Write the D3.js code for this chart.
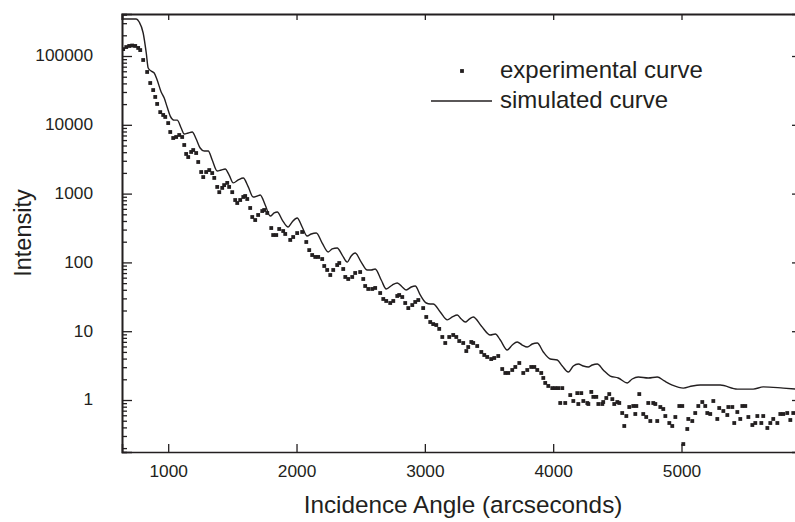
<!DOCTYPE html>
<html><head><meta charset="utf-8">
<script src="https://cdn.jsdelivr.net/npm/d3@7"></script>
<style>
html,body{margin:0;padding:0;background:#fff;}
svg{display:block;font-family:"Liberation Sans",Arial,sans-serif;}
</style></head>
<body>
<svg id="chart" width="795" height="522"></svg>
<script>
// ---- data ----
const expAngle = [649,673,696,719,743,766,782,805,836,860,883,899,914,938,961,977,1000,1016,1039,1062,1086,1109,1125,1140,1156,1179,1195,1218,1234,1257,1273,1296,1320,1343,1359,1382,1398,1421,1436,1460,1475,1499,1522,1538,1561,1585,1600,1616,1639,1655,1678,1701,1733,1748,1772,1803,1818,1842,1865,1896,1912,1951,1974,2005,2044,2076,2099,2122,2146,2169,2200,2216,2239,2263,2286,2317,2333,2364,2380,2403,2434,2457,2496,2520,2535,2559,2590,2613,2652,2676,2699,2730,2754,2785,2800,2824,2847,2871,2902,2925,2949,2987,3011,3042,3065,3089,3112,3136,3159,3190,3221,3245,3268,3299,3323,3338,3362,3377,3408,3440,3463,3486,3517,3541,3572,3603,3627,3650,3681,3705,3736,3767,3798,3829,3853,3876,3907,3923,3938,3962,3993,4016,4040,4055,4071,4094,4133,4157,4188,4196,4219,4235,4266,4274,4297,4313,4336,4352,4383,4390,4414,4437,4461,4476,4500,4515,4538,4554,4570,4593,4624,4640,4648,4671,4702,4725,4741,4757,4780,4796,4811,4835,4858,4874,4905,4928,4952,4983,5006,5014,5045,5053,5084,5107,5131,5162,5185,5201,5224,5248,5279,5294,5326,5357,5365,5396,5411,5435,5458,5474,5497,5521,5552,5575,5591,5622,5637,5669,5692,5715,5747,5770,5793,5824,5848,5871];
const expIntensity = [126000,135000,140000,142000,140000,131000,122000,87500,58600,40500,32000,25400,20100,15300,13900,13000,10600,7860,6430,6650,7110,6650,5090,3770,3400,4030,4300,3890,2880,2060,1740,2060,2200,1990,1690,1250,1050,1210,1330,1430,1250,1050,807,730,807,893,923,835,618,457,413,489,558,578,523,316,250,250,306,286,259,212,234,267,277,198,151,128,120,120,112,88.7,77.6,65.6,77.6,91.6,98.0,80.2,61.4,57.4,61.4,70.2,72.5,57.4,45.4,41.1,41.1,42.5,35.9,29.4,27.5,25.7,27.5,32.5,33.6,31.4,25.7,21.7,24.0,26.6,28.4,21.7,16.1,13.6,12.7,12.3,10.8,8.24,6.74,8.24,8.81,8.24,7.20,6.74,5.15,5.89,6.97,6.74,6.09,4.99,4.51,4.22,3.94,4.08,4.36,2.82,2.47,2.47,2.73,3.02,3.45,2.47,2.73,3.02,3.02,2.73,2.47,2.09,1.77,1.60,1.49,1.49,1.49,0.905,1.49,0.905,1.18,0.967,1.26,0.875,1.26,0.967,0.905,0.875,1.31,1.11,1.11,0.875,0.875,0.935,1.07,1.22,1.03,0.875,0.935,0.905,0.647,0.419,0.585,0.791,0.818,0.626,0.818,1.22,0.626,0.566,0.905,0.495,0.905,0.875,0.495,0.791,0.740,0.585,0.463,0.419,0.566,0.818,0.818,0.229,0.379,0.530,0.495,0.647,0.818,0.935,0.818,0.647,0.626,0.967,0.530,0.765,0.692,0.605,0.791,0.791,0.463,0.669,0.530,0.818,0.818,0.566,0.433,0.463,0.585,0.463,0.585,0.392,0.463,0.530,0.463,0.626,0.626,0.647,0.512,0.647];

const simAngle = [649,751,774,805,829,844,867,891,914,945,969,992,1016,1047,1070,1101,1125,1156,1187,1218,1249,1281,1312,1343,1382,1413,1444,1475,1507,1546,1585,1624,1662,1694,1717,1756,1795,1826,1850,1889,1935,1966,2005,2044,2083,2115,2154,2200,2247,2278,2317,2356,2395,2426,2457,2504,2551,2582,2613,2660,2699,2746,2785,2824,2855,2894,2925,2964,3011,3042,3065,3120,3175,3214,3253,3284,3315,3346,3377,3440,3510,3549,3588,3642,3681,3720,3759,3798,3837,3876,3923,3977,4032,4071,4118,4157,4196,4235,4274,4305,4344,4390,4445,4507,4577,4616,4663,4741,4811,4866,4928,5014,5084,5146,5302,5435,5559,5637,5793,5902];
const simIntensity = [345000,345000,312000,216000,111000,67000,60500,56600,44800,30000,24500,18100,13400,11700,11700,8980,7350,7600,7860,6220,4600,4160,4160,3080,2130,2200,2280,1860,1430,1580,1690,1250,893,923,955,683,472,523,540,413,327,387,442,327,242,259,267,191,142,157,162,128,101,124,137,101,77.6,77.6,80.2,55.5,41.1,46.9,50.2,43.9,39.7,43.9,45.4,33.6,25.7,24.9,24.9,19.0,14.6,16.1,17.2,15.0,13.6,15.0,16.1,11.9,8.81,9.10,7.45,5.33,6.30,6.97,6.30,5.89,6.52,6.74,4.99,3.94,3.81,3.12,2.55,3.12,3.34,3.12,3.02,3.23,3.34,2.73,2.23,2.09,1.77,2.02,2.16,2.09,2.16,1.89,1.65,1.49,1.60,1.65,1.65,1.44,1.44,1.55,1.49,1.44];

const xTicks = [1000,2000,3000,4000,5000];
const yTicks = [1,10,100,1000,10000,100000];
const legendLabels = ["experimental curve","simulated curve"];
const xTitle = "Incidence Angle (arcseconds)";
const yTitle = "Intensity";

// ---- layout ----
const L = 122, R = 797, T = 14, B = 452;
const svg = d3.select("#chart");
const x = d3.scaleLinear().domain([640, 5900]).range([L, R]);
const y = d3.scaleLog().domain([0.1755, 408000]).range([B, T]);
const ink = "#231f20";

// minor ticks for y
const yMinor = [];
for (let e = -1; e <= 5; e++) for (let m = 2; m <= 9; m++) {
  const v = m * Math.pow(10, e);
  if (v >= 0.1755 && v <= 408000) yMinor.push(v);
}

svg.append("clipPath").attr("id","clip").append("rect")
  .attr("x", L).attr("y", T).attr("width", R - L).attr("height", B - T);

// simulated line
const line = d3.line().x(d => x(d[0])).y(d => y(d[1])).curve(d3.curveMonotoneX);
svg.append("path")
  .datum(simAngle.map((a, i) => [a, simIntensity[i]]))
  .attr("clip-path","url(#clip)")
  .attr("d", line).attr("fill","none").attr("stroke", ink).attr("stroke-width", 1.4);

// experimental points
const s = 3.8;
svg.append("g").attr("clip-path","url(#clip)").selectAll("rect")
  .data(expAngle.map((a, i) => [a, expIntensity[i]]))
  .join("rect")
  .attr("x", d => x(d[0]) - s/2).attr("y", d => y(d[1]) - s/2)
  .attr("width", s).attr("height", s).attr("fill", ink);

// axes
function style(g) {
  g.selectAll(".domain").attr("stroke", ink).attr("stroke-width", 1.6);
  g.selectAll(".tick line").attr("stroke", ink).attr("stroke-width", 1.3);
  g.selectAll("text").attr("fill", ink).attr("font-size", 17.3)
   .attr("font-family", '"Liberation Sans",Arial,sans-serif');
}
svg.append("g").attr("transform", `translate(${L},0)`)
  .call(d3.axisLeft(y).tickValues(yMinor).tickSize(-5).tickFormat(""))
  .call(style);
svg.append("g").attr("transform", `translate(${L},0)`)
  .call(d3.axisLeft(y).tickValues(yTicks).tickSize(-10).tickPadding(29).tickFormat(d3.format("d")))
  .call(style)
  .call(g => g.selectAll("text").attr("dy", "0.28em"));
svg.append("g").attr("transform", `translate(0,${B})`)
  .call(d3.axisBottom(x).tickValues(xTicks).tickSize(-8).tickPadding(13).tickFormat(d3.format("d")))
  .call(style);
svg.append("g").attr("transform", `translate(0,${T})`)
  .call(d3.axisTop(x).tickValues(xTicks).tickSize(-6).tickFormat(""))
  .call(style)
  .call(g => g.select(".domain").attr("stroke-width", 2.2));
svg.append("g").attr("transform", `translate(${R},0)`)
  .call(d3.axisRight(y).tickValues(yTicks).tickSize(-5).tickFormat(""))
  .call(style);

// titles
svg.append("text").attr("x", 463).attr("y", 513).attr("text-anchor","middle")
  .attr("font-size", 24.3).attr("fill", ink).text(xTitle);
svg.append("text").attr("transform","translate(31,233) rotate(-90)").attr("text-anchor","middle")
  .attr("font-size", 23.5).attr("fill", ink).text(yTitle);

// legend
const lg = svg.append("g");
lg.append("rect").attr("x", 462 - s/2).attr("y", 71 - s/2).attr("width", s).attr("height", s).attr("fill", ink);
lg.append("text").attr("x", 500).attr("y", 78).attr("font-size", 24).attr("fill", ink).text(legendLabels[0]);
lg.append("line").attr("x1", 431).attr("x2", 492).attr("y1", 101).attr("y2", 101)
  .attr("stroke", ink).attr("stroke-width", 1.4);
lg.append("text").attr("x", 500).attr("y", 108).attr("font-size", 24).attr("fill", ink).text(legendLabels[1]);
</script>
</body></html>
